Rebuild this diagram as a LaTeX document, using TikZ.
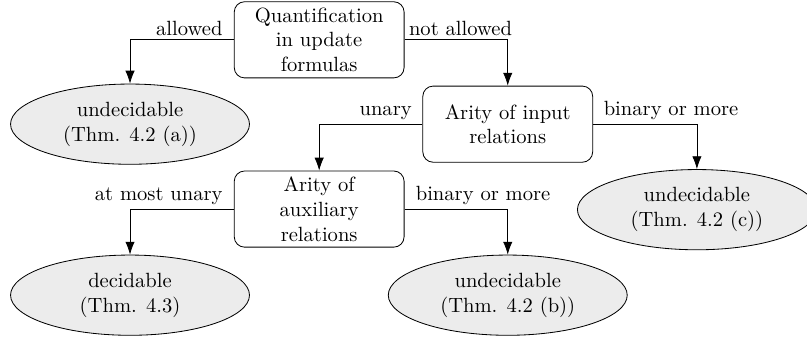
\documentclass[tikz,border=0pt]{standalone}
\usepackage{tikz}
\usetikzlibrary{shapes.geometric,arrows.meta}

\begin{document}
\begin{tikzpicture}
\tikzstyle{question}=[draw,rounded corners=5pt,align=center,minimum width=2.9cm,minimum height=1.3cm,inner sep=1pt]
\tikzstyle{answer}=[draw,ellipse,fill=gray!15,align=center,minimum width=4.08cm,minimum height=1.37cm,inner sep=0pt]
\tikzstyle{branch}=[-{Latex[length=2.2mm,width=1.6mm]}]
\tikzstyle{choice}=[inner sep=2pt,pos=0]
\useasboundingbox (0,0) rectangle (13.78,-5.80);
% questions
\node [question] (quant) at (5.45,-0.68) {Quantification\\in update\\formulas};
\node [question] (input) at (8.67,-2.12) {Arity of input\\relations};
\node [question] (aux) at (5.45,-3.57) {Arity of\\auxiliary\\relations};
% answers
\node [answer] (undeca) at (2.22,-2.12) {undecidable\\(Thm. 4.2 (a))};
\node [answer] (undecc) at (11.90,-3.58) {undecidable\\(Thm. 4.2 (c))};
\node [answer] (dec) at (2.22,-5.04) {decidable\\(Thm. 4.3)};
\node [answer] (undecb) at (8.67,-5.04) {undecidable\\(Thm. 4.2 (b))};
% branches
\draw [branch] (quant.west) -| node [choice,above left,xshift=-3.3pt] {allowed} (undeca.north);
\draw [branch] (quant.east) -| node [choice,above right] {not allowed} (input.north);
\draw [branch] (input.west) -| node [choice,above left,xshift=-3pt] {unary} (aux.north);
\draw [branch] (input.east) -| node [choice,above right,xshift=3pt] {binary or more} (undecc.north);
\draw [branch] (aux.west) -| node [choice,above left,xshift=-3.3pt] {at most unary} (dec.north);
\draw [branch] (aux.east) -| node [choice,above right,xshift=3.3pt] {binary or more} (undecb.north);
\end{tikzpicture}
\end{document}
